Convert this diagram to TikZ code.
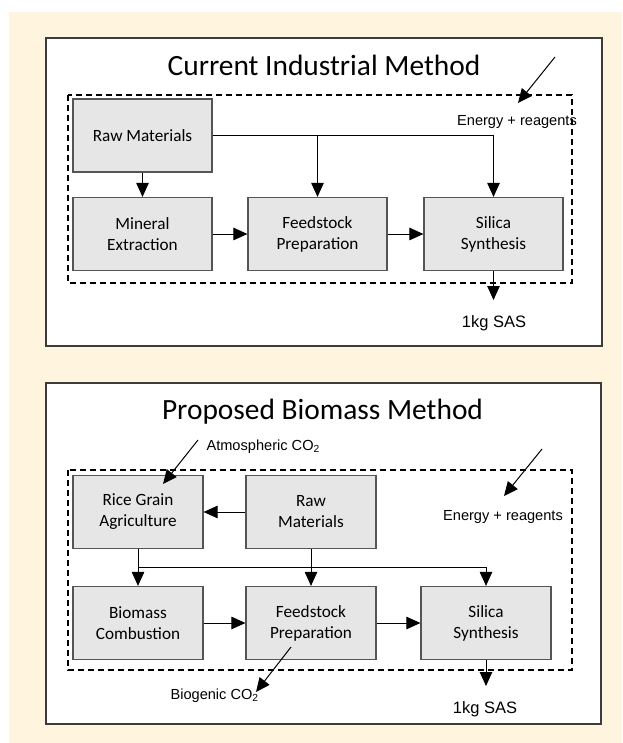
\documentclass[tikz,border=0pt]{standalone}
\usepackage{fontspec}
\setmainfont{Carlito}
\newfontfamily\arialf{Liberation Sans}
\usetikzlibrary{arrows.meta,calc,positioning}
\definecolor{cream}{RGB}{255,244,222}
\definecolor{boxfill}{RGB}{230,230,230}
\definecolor{boxedge}{RGB}{85,85,85}
\definecolor{paneledge}{RGB}{60,60,60}

\begin{document}
\begin{tikzpicture}[x=1pt,y=-1pt,
    box/.style={draw=boxedge, fill=boxfill, line width=1.2pt, minimum width=139pt, minimum height=73pt, inner sep=0pt, align=center, font=\fontsize{17.2}{21}\selectfont},
    sbox/.style={box, minimum width=130pt},
    panel/.style={draw=paneledge, fill=white, line width=1.3pt},
    bound/.style={draw=black, line width=1.5pt, dash pattern=on 6pt off 4pt},
    arr/.style={-{Triangle[length=14pt,width=12.5pt]}, line width=1pt},
    ttl/.style={anchor=base, font=\fontsize{29.4}{34}\selectfont},
    lbl/.style={anchor=base, font=\arialf\fontsize{14.6}{17}\selectfont},
    sas/.style={anchor=base, font=\arialf\fontsize{16.5}{19}\selectfont}]

\useasboundingbox (0,0) rectangle (622,743);
\fill[cream] (9,12) rectangle (622,743);
\draw[panel] (46,38) rectangle (602,346);
\draw[panel] (46,383) rectangle (601,724);
\draw[bound] (68,95) rectangle (572,283);
\draw[bound] (68,470) rectangle (572,670);

\node [ttl] (title1) at (324,76){Current Industrial Method};
\node [box] (raw1) at (142.5,135.5){Raw Materials};
\node [box] (min1) at (142.5,234){Mineral\\Extraction};
\node [box] (feed1) at (317.5,234){Feedstock\\Preparation};
\node [box] (sil1) at (493.5,234){Silica\\Synthesis};
\node [lbl] (en1) at (517,126){Energy + reagents};
\node [sas] (sas1) at (494,327){1kg SAS};
\coordinate (ein1) at (555,57);
\coordinate (eto1) at (518,103);
\coordinate (out1) at (493.5,300);
\draw[arr] (raw1) -- (min1);
\draw[arr] (raw1.east) -| (feed1.north);
\draw[arr] (raw1.east) -| (sil1.north);
\draw[arr] (min1) -- (feed1);
\draw[arr] (feed1) -- (sil1);
\draw[arr] (sil1) -- (out1);
\draw[arr] (ein1) -- (eto1);

\node [ttl] (title2) at (322.5,419){Proposed Biomass Method};
\node [sbox] (rice2) at (138,512){Rice Grain\\Agriculture};
\node [sbox] (raw2) at (311,512){Raw\\Materials};
\node [sbox] (biom2) at (138,623){Biomass\\Combustion};
\node [sbox] (feed2) at (311,623){Feedstock\\Preparation};
\node [sbox] (sil2) at (486,623){Silica\\Synthesis};
\node [lbl, anchor=base west] (atm2) at (203,450){Atmospheric CO\textsubscript{2}};
\node [lbl, anchor=base west] (bio2) at (167,699){Biogenic CO\textsubscript{2}};
\node [lbl] (en2) at (503,520){Energy + reagents};
\node [sas] (sas2) at (485,713){1kg SAS};
\coordinate (ain2) at (198,440);
\coordinate (ato2) at (163,484);
\coordinate (bin2) at (291,647);
\coordinate (bto2) at (256,692);
\coordinate (ein2) at (542,449);
\coordinate (eto2) at (504,496);
\coordinate (out2) at (486,686);
\draw[arr] (raw2) -- (rice2);
\draw[arr] (rice2) -- (biom2);
\draw[arr] ($(rice2.south)!.5!(biom2.north)$) -| (sil2.north);
\draw[arr] (raw2) -- (feed2);
\draw[arr] (biom2) -- (feed2);
\draw[arr] (feed2) -- (sil2);
\draw[arr] (sil2) -- (out2);
\draw[arr] (ain2) -- (ato2);
\draw[arr] (bin2) -- (bto2);
\draw[arr] (ein2) -- (eto2);
\end{tikzpicture}
\end{document}
